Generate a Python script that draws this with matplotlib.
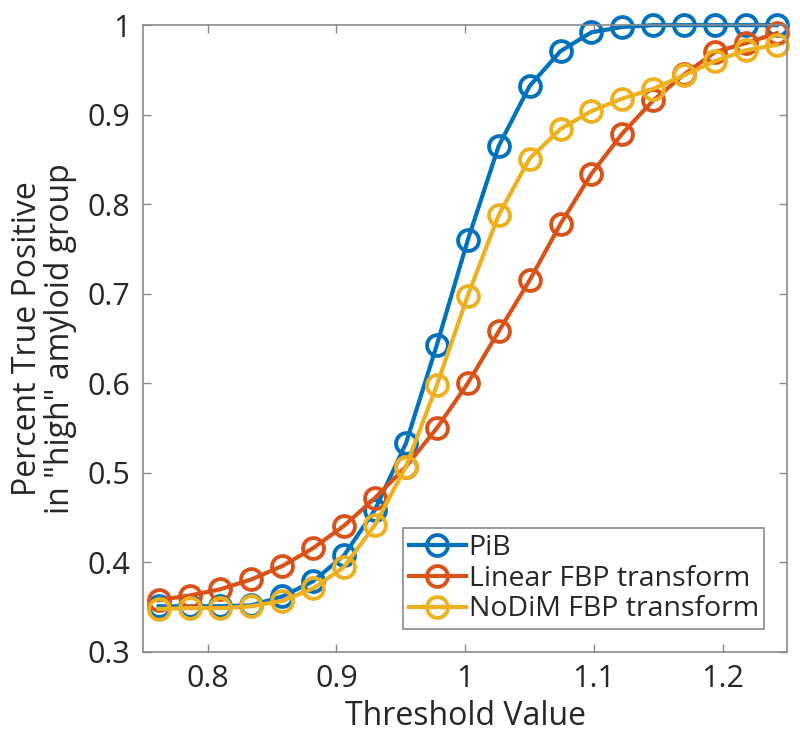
import matplotlib.pyplot as plt
import numpy as np

# threshold values (x) and true-positive fractions
threshold = [0.762, 0.786, 0.810, 0.834, 0.858, 0.882, 0.906, 0.930, 0.954, 0.978,
             1.002, 1.026, 1.050, 1.074, 1.098, 1.122, 1.146, 1.170, 1.194, 1.218, 1.242]

pib = [0.351, 0.351, 0.351, 0.352, 0.362, 0.379, 0.408, 0.459, 0.533, 0.643,
       0.760, 0.865, 0.932, 0.971, 0.992, 0.998, 1.0, 1.0, 1.0, 1.0, 1.0]

linear_fbp = [0.358, 0.363, 0.370, 0.381, 0.396, 0.416, 0.441, 0.472, 0.507, 0.550,
              0.600, 0.658, 0.715, 0.778, 0.834, 0.879, 0.916, 0.945, 0.970, 0.980, 0.991]

nodim_fbp = [0.348, 0.349, 0.349, 0.351, 0.357, 0.371, 0.395, 0.442, 0.507, 0.598,
             0.698, 0.788, 0.851, 0.884, 0.904, 0.918, 0.929, 0.944, 0.960, 0.972, 0.978]

plt.rcParams['font.family'] = ['Open Sans', 'DejaVu Sans']

fig = plt.figure(figsize=(8, 7.4), dpi=100)
ax = fig.add_axes([0.179, 0.119, 0.805, 0.847])

style = dict(marker='o', markerfacecolor='none', linewidth=3.0, markersize=15,
             markeredgewidth=2.8, clip_on=False)
ax.plot(threshold, pib, color='#0072BD', label='PiB', **style)
ax.plot(threshold, linear_fbp, color='#D95319', label='Linear FBP transform', **style)
ax.plot(threshold, nodim_fbp, color='#EDB120', label='NoDiM FBP transform', **style)

ax.set_xlim(0.75, 1.25)
ax.set_ylim(0.3, 1.0)
ax.set_xticks([0.8, 0.9, 1.0, 1.1, 1.2])
ax.set_xticklabels(['0.8', '0.9', '1', '1.1', '1.2'])
ax.set_yticks([0.3, 0.4, 0.5, 0.6, 0.7, 0.8, 0.9, 1.0])
ax.set_yticklabels(['0.3', '0.4', '0.5', '0.6', '0.7', '0.8', '0.9', '1'])

for s in ax.spines.values():
    s.set_color('#8a8a8a')
    s.set_linewidth(1.2)
ax.tick_params(direction='in', top=True, right=True, length=6, width=1,
               color='#8a8a8a', labelsize=22, labelcolor='#262626', pad=9)

ax.set_xlabel('Threshold Value', fontsize=23, color='#262626', labelpad=4)
ax.set_ylabel('Percent True Positive\nin "high" amyloid group', fontsize=23,
              color='#262626', labelpad=8, linespacing=1.0)

leg = ax.legend(loc='lower right', fontsize=20.5, handlelength=2.0, handletextpad=0.1,
                borderpad=0.2, labelspacing=0.1, borderaxespad=0.8, fancybox=False,
                framealpha=1)
leg.get_frame().set_edgecolor('#8a8a8a')
leg.get_frame().set_linewidth(1.2)
for t in leg.get_texts():
    t.set_color('#262626')

plt.savefig('out.png', dpi=100)
